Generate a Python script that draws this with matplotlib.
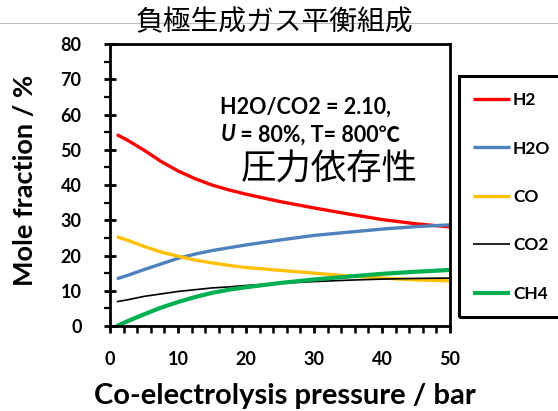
import matplotlib
matplotlib.use('Agg')
import matplotlib.pyplot as plt
from matplotlib.ticker import MultipleLocator
from matplotlib.patches import Rectangle
from matplotlib.lines import Line2D

# data
pressure = [1, 2.5, 5, 7.5, 10, 12.5, 15, 17.5, 20, 25, 30, 35, 40, 45, 50]
h2 = [54.3, 52.8, 49.9, 46.7, 44.0, 41.8, 40.0, 38.6, 37.4, 35.3, 33.5, 31.8, 30.2, 29.0, 28.1]
h2o = [13.4, 14.3, 16.0, 17.6, 19.2, 20.4, 21.4, 22.2, 23.0, 24.4, 25.7, 26.6, 27.5, 28.2, 28.7]
co = [25.3, 24.4, 22.6, 21.0, 19.8, 18.7, 17.9, 17.2, 16.6, 15.8, 15.0, 14.2, 13.6, 13.1, 12.8]
co2 = [6.9, 7.4, 8.4, 9.1, 9.8, 10.3, 10.8, 11.1, 11.5, 12.1, 12.6, 13.0, 13.3, 13.5, 13.6]
ch4 = [0.0, 1.3, 3.3, 5.2, 6.8, 8.2, 9.4, 10.3, 11.0, 12.2, 13.2, 14.0, 14.8, 15.4, 15.9]

series = [
    ('H2', h2, '#FF0000', 2.4),
    ('H2O', h2o, '#4F81BD', 2.4),
    ('CO', co, '#FFC000', 2.4),
    ('CO2', co2, '#000000', 1.2),
    ('CH4', ch4, '#00B050', 3.0),
]

plt.rcParams['font.family'] = ['Lato', 'Noto Sans CJK JP', 'DejaVu Sans']

fig = plt.figure(figsize=(5.58, 4.11), dpi=100)
ax = fig.add_axes([0.1971, 0.2068, 0.6094, 0.6861])

for name, vals, color, lw in series:
    ax.plot(pressure, vals, color=color, lw=lw, label=name, solid_capstyle='butt')

ax.set_xlim(0, 50)
ax.set_ylim(0, 80)
ax.xaxis.set_major_locator(MultipleLocator(10))
ax.xaxis.set_minor_locator(MultipleLocator(2))
ax.yaxis.set_major_locator(MultipleLocator(10))
ax.yaxis.set_minor_locator(MultipleLocator(5))

for s in ax.spines.values():
    s.set_linewidth(2)
ax.tick_params(axis='y', which='major', direction='inout', length=9, width=2, pad=16,
               labelsize=13)
ax.tick_params(axis='y', which='minor', direction='out', length=4, width=1.6)
ax.tick_params(axis='x', which='major', direction='out', length=5, width=2, pad=13,
               labelsize=13)
ax.tick_params(axis='x', which='minor', direction='out', length=5, width=1.8)
for lab in ax.get_xticklabels() + ax.get_yticklabels():
    lab.set_fontweight('bold')

fig.text(0.045, 1 - 180 / 411, 'Mole fraction / %', rotation=90, ha='center',
         va='center', fontsize=19.5, fontweight='bold')
fig.text(0.51, 1 - 396 / 411, 'Co-electrolysis pressure / bar', ha='center',
         va='center', fontsize=21, fontweight='bold')

# title with the slide's thin rule behind it
fig.add_artist(Line2D([0, 1], [1 - 23 / 411, 1 - 23 / 411], color='#BFBFBF', lw=0.8))
fig.text(274 / 558, 1 - 22 / 411, '負極生成ガス平衡組成', ha='center', va='center',
         fontsize=20, family=['Noto Sans CJK JP'])

ax.text(0.325, 0.775, 'H2O/CO2 = 2.10,', transform=ax.transAxes, fontsize=15.5,
        fontweight='bold', va='center', ha='left')
u_txt = ax.text(0.325, 0.678, 'U', transform=ax.transAxes, fontsize=15.5,
                fontweight='bold', fontstyle='italic', va='center', ha='left')
ax.annotate(' = 80%, T= 800℃', xy=(1, 0), xycoords=u_txt, va='bottom', ha='left',
            fontsize=15.5, fontweight='bold')
ax.text(0.385, 0.555, '圧力依存性', transform=ax.transAxes, fontsize=25.5,
        family=['Noto Sans CJK JP'], va='center', ha='left')

# legend box running off the right edge
fig.add_artist(Rectangle((459 / 558, 1 - 317 / 411), 0.25, (317 - 76) / 411,
                         transform=fig.transFigure, fill=False, ec='black', lw=2.2))
leg = fig.legend(loc='center left', bbox_to_anchor=(473 / 558, 1 - 197 / 411),
                 frameon=False, fontsize=12.5, handlelength=2.15, handletextpad=0.15,
                 labelspacing=1.87, borderpad=0, borderaxespad=0)
for t in leg.get_texts():
    t.set_fontweight('bold')

fig.savefig('out.png', dpi=100)
